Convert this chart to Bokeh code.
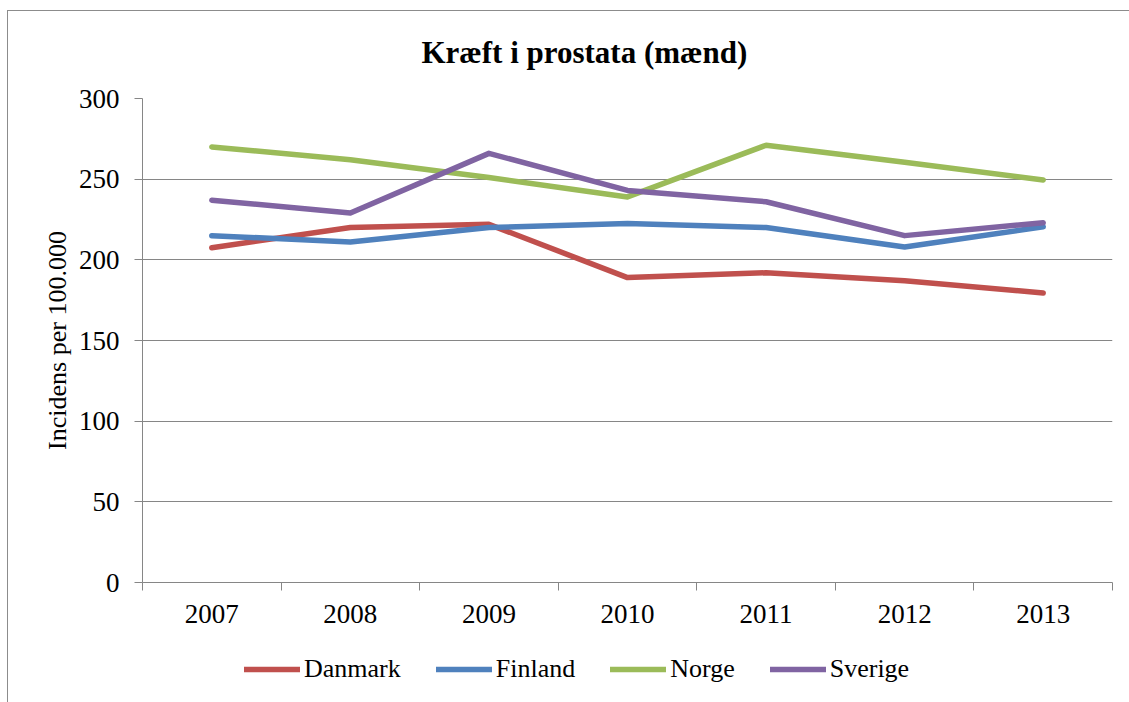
from bokeh.plotting import figure
from bokeh.layouts import column
from bokeh.models import FixedTicker, Legend, LegendItem, Range1d
from bokeh.embed import file_html
from bokeh.resources import INLINE

years = [2007, 2008, 2009, 2010, 2011, 2012, 2013]
year_labels = ["2007", "2008", "2009", "2010", "2011", "2012", "2013"]
danmark = [207.5, 220, 222, 189, 192, 187, 179.5]
finland = [215, 211, 220, 222.5, 220, 208, 220.5]
norge = [270, 262, 251, 239, 271, 260.5, 249.5]
sverige = [237, 229, 266, 243, 236, 215, 223]
series_names = ["Danmark", "Finland", "Norge", "Sverige"]
series_colors = ["#C0504D", "#4F81BD", "#9BBB59", "#8064A2"]
y_ticks = [0, 50, 100, 150, 200, 250, 300]

FONT = "Liberation Serif"
GREY = "#868686"
W, H_MAIN, H_LEG = 1129, 640, 62

p = figure(width=W, height=H_MAIN, output_backend="svg", toolbar_location=None,
           x_range=Range1d(years[0] - 0.5, years[-1] + 0.5), y_range=Range1d(0, 300),
           min_border_left=142, min_border_right=17, min_border_top=98, min_border_bottom=58)
p.border_fill_color = None
p.background_fill_color = "white"

p.title.text = "Kræft i prostata (mænd)"
p.title.text_font = FONT
p.title.text_font_size = "31px"
p.title.text_font_style = "bold"
p.title.text_color = "black"
p.title.align = "left"
p.title.offset = 279
p.title.standoff = 57
p.outline_line_color = None

all_vals = [danmark, finland, norge, sverige]
for vals, col in zip(all_vals, series_colors):
    p.line(years, vals, line_color=col, line_width=5.5, line_cap="round", line_join="round")

p.xgrid.grid_line_color = None
p.ygrid.grid_line_color = GREY
p.ygrid.grid_line_width = 1
p.yaxis.ticker = FixedTicker(ticks=y_ticks)
p.xaxis.ticker = FixedTicker(ticks=years, minor_ticks=[y - 0.5 for y in years] + [years[-1] + 0.5])
p.xaxis.major_label_overrides = {y: l for y, l in zip(years, year_labels)}

for ax in [p.xaxis[0], p.yaxis[0]]:
    ax.axis_line_color = GREY
    ax.axis_line_width = 1
    ax.major_tick_line_color = GREY
    ax.minor_tick_line_color = GREY
    ax.major_label_text_font = FONT
    ax.major_label_text_font_size = "27px"
    ax.major_label_text_color = "black"
    ax.minor_tick_in = 0

p.yaxis.major_tick_in = 0
p.yaxis.major_tick_out = 8
p.yaxis.minor_tick_out = 0
p.yaxis.major_label_standoff = 15
p.yaxis.axis_label = "Incidens per 100.000"
p.yaxis.axis_label_text_font = FONT
p.yaxis.axis_label_text_font_size = "26px"
p.yaxis.axis_label_text_font_style = "normal"
p.yaxis.axis_label_text_color = "black"
p.yaxis.axis_label_standoff = 4

p.xaxis.major_tick_in = 0
p.xaxis.major_tick_out = 0
p.xaxis.minor_tick_out = 8
p.xaxis.major_label_standoff = 14

# legend strip (separate figure so the legend can sit freely below the chart)
lg = figure(width=W, height=H_LEG, output_backend="svg", toolbar_location=None,
            x_range=Range1d(0, 1), y_range=Range1d(0, 1),
            min_border_left=0, min_border_right=0, min_border_top=0, min_border_bottom=0)
lg.axis.visible = False
lg.grid.grid_line_color = None
lg.outline_line_color = None
lg.border_fill_color = None
lg.background_fill_color = None
items = []
for name, vals, col in zip(series_names, all_vals, series_colors):
    r = lg.line(years, vals, line_color=col, line_width=5.5, line_cap="round")
    items.append(LegendItem(label=name, renderers=[r]))
legend = Legend(items=items, orientation="horizontal", location=(102, 18),
                glyph_width=56, glyph_height=26, label_standoff=4, spacing=35,
                label_text_font=FONT, label_text_font_size="26px", label_text_color="black",
                padding=0, margin=0, border_line_alpha=0, background_fill_alpha=0)
lg.add_layout(legend, "center")

layout = column(p, lg, spacing=0)
layout.styles = {
    "background": "linear-gradient(#8c8c8c,#8c8c8c) 7px 10px / 1px calc(100% - 10px) no-repeat, "
                  "linear-gradient(#8c8c8c,#8c8c8c) 7px 10px / calc(100% - 7px) 1px no-repeat, white"
}

open("out.html", "w").write(file_html(layout, INLINE))
